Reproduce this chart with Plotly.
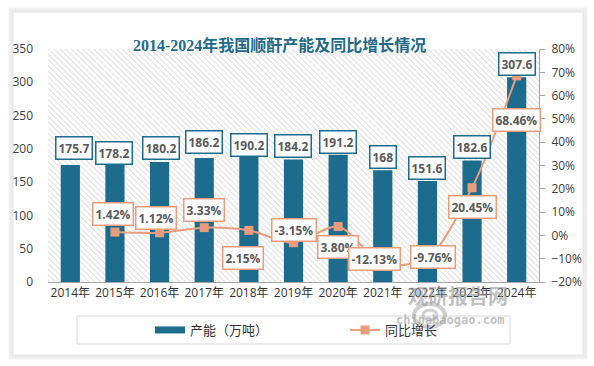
import base64
import plotly.graph_objects as go

years = ["2014年", "2015年", "2016年", "2017年", "2018年", "2019年", "2020年", "2021年", "2022年", "2023年", "2024年"]
capacity = [175.7, 178.2, 180.2, 186.2, 190.2, 184.2, 191.2, 168, 151.6, 182.6, 307.6]
growth_years = years[1:]
growth = [1.42, 1.12, 3.33, 2.15, -3.15, 3.80, -12.13, -9.76, 20.45, 68.46]

# label offsets (pixels): (xshift, yshift)
bar_label_shift = [(4, 17), (-1, 10), (1, 14), (0, 16), (0, 10), (-1, 13), (0, 13), (0, 13), (0, 13), (0, 13), (0, 13)]
line_label_shift = [(-2, 18), (-4, 15), (0, 18), (-6, -28), (0, 13), (0, -20), (-8, 5), (6, 1), (0, -19), (0, -44)]

BAR = "#1d6b8d"
LINE = "#e99d7d"
LBL = "#595959"
FONT = "Open Sans, Noto Sans CJK SC, sans-serif"
WM = "rgba(150,150,150,0.6)"

W, H = 594, 366
L, R, T, B = 48, 55, 49, 84
PW, PH = W - L - R, H - T - B

def px2x(px):
    return (px - L) / PW

def px2y(py):
    return (H - B - py) / PH

svg = (
    f'<svg xmlns="http://www.w3.org/2000/svg" width="{PW}" height="{PH}">'
    '<defs><pattern id="p" width="4" height="4" patternUnits="userSpaceOnUse" patternTransform="rotate(-45)">'
    '<line x1="0" y1="0" x2="0" y2="4" stroke="#c9c9c9" stroke-width="1.2"/></pattern></defs>'
    f'<rect width="{PW}" height="{PH}" fill="white"/><rect width="{PW}" height="{PH}" fill="url(#p)"/></svg>'
)
svg_uri = "data:image/svg+xml;base64," + base64.b64encode(svg.encode()).decode()

fig = go.Figure()
fig.add_trace(go.Bar(
    x=years, y=capacity, name="产能（万吨）", marker=dict(color=BAR, line=dict(width=0)),
    width=0.43, yaxis="y", showlegend=False,
))
# legend swatch for the bars (wide bar-like stroke)
fig.add_trace(go.Scatter(
    x=[None], y=[None], name="产能（万吨）", mode="lines", line=dict(color=BAR, width=7),
    yaxis="y", showlegend=True,
))
fig.add_trace(go.Scatter(
    x=growth_years, y=growth, name="同比增长", yaxis="y2", mode="lines+markers",
    line=dict(color=LINE, width=2, shape="spline", smoothing=0.8),
    marker=dict(symbol="square", size=9, color=LINE),
))

annotations = []
for yr, v, (dx, dy) in zip(years, capacity, bar_label_shift):
    annotations.append(dict(
        x=yr, y=v, xref="x", yref="y", text=f"<b>{v:g}</b>", showarrow=False,
        xshift=dx, yshift=dy, font=dict(family=FONT, size=12, color=LBL),
        bgcolor="white", bordercolor=BAR, borderwidth=1.5, borderpad=2,
    ))
for yr, v, (dx, dy) in zip(growth_years, growth, line_label_shift):
    annotations.append(dict(
        x=yr, y=v, xref="x", yref="y2", text=f"<b>{v:.2f}%</b>", showarrow=False,
        xshift=dx, yshift=dy, font=dict(family=FONT, size=12, color=LBL),
        bgcolor="white", bordercolor=LINE, borderwidth=1.5, borderpad=2,
    ))
annotations.append(dict(
    x=px2x(279), y=px2y(34), xref="paper", yref="paper", showarrow=False,
    text="<b>2014-2024年我国顺酐产能及同比增长情况</b>",
    font=dict(family="Liberation Serif, Noto Sans CJK SC, serif", size=16, color="#1f6a8a"),
))
annotations.append(dict(
    x=px2x(510), y=px2y(312), xref="paper", yref="paper", showarrow=False,
    text="<b>观研报告网</b>", font=dict(family="Noto Sans CJK SC", size=20, color=WM),
))
annotations.append(dict(
    x=px2x(506), y=px2y(329), xref="paper", yref="paper", showarrow=False,
    text="<b>chinabaogao.com</b>", font=dict(family="DejaVu Sans Mono", size=12, color=WM),
))

shapes = []
# card shadow
for i, a in enumerate([0.025, 0.03, 0.035, 0.04, 0.05]):
    off = 5 - i
    shapes.append(dict(
        type="rect", xref="paper", yref="paper", layer="below",
        x0=px2x(14 - off), x1=px2x(581 + off + 1), y0=px2y(352 + off + 2), y1=px2y(13 - off),
        line=dict(color=f"rgba(0,0,0,{a})", width=2), fillcolor="rgba(0,0,0,0)",
    ))
# legend frame
shapes.append(dict(
    type="rect", xref="paper", yref="paper", layer="below",
    x0=px2x(77), x1=px2x(510), y0=px2y(344), y1=px2y(316),
    line=dict(color="#d9d9d9", width=1), fillcolor="white",
))
# watermark logo rings
shapes.append(dict(
    type="circle", xref="paper", yref="paper", layer="above",
    x0=px2x(414), x1=px2x(445), y0=px2y(327), y1=px2y(304),
    line=dict(color="rgba(150,150,150,0.45)", width=4), fillcolor="rgba(0,0,0,0)",
))
shapes.append(dict(
    type="circle", xref="paper", yref="paper", layer="above",
    x0=px2x(423), x1=px2x(437), y0=px2y(320), y1=px2y(310),
    line=dict(color="rgba(150,150,150,0.45)", width=3), fillcolor="rgba(0,0,0,0)",
))

fig.update_layout(
    width=W, height=H,
    margin=dict(l=L, r=R, t=T, b=B, autoexpand=False),
    paper_bgcolor="white", plot_bgcolor="rgba(0,0,0,0)",
    font=dict(family=FONT, size=12, color="#404040"),
    showlegend=True,
    legend=dict(
        orientation="h", x=px2x(150), xanchor="left", y=px2y(330), yanchor="middle",
        font=dict(family="Noto Sans CJK SC", size=13, color="#333333"),
        bgcolor="rgba(0,0,0,0)", entrywidth=150, itemwidth=30, tracegroupgap=0,
    ),
    xaxis=dict(
        type="category", showgrid=False, showline=True, linecolor="#a6a6a6", linewidth=1,
        ticks="", tickfont=dict(size=12, color="#333333"), range=[-0.5, 10.5],
    ),
    yaxis=dict(
        range=[0, 350], dtick=50, showgrid=False, zeroline=False, showline=False,
        ticks="", ticklabelstandoff=14, tickfont=dict(size=12, color="#404040"),
    ),
    yaxis2=dict(
        range=[-20, 80], dtick=10, overlaying="y", side="right", showgrid=False, zeroline=False,
        showline=True, linecolor="#a6a6a6", linewidth=1, ticks="outside", ticklen=5,
        tickcolor="#a6a6a6", ticksuffix="%", ticklabelstandoff=4, tickfont=dict(size=12, color="#404040"),
    ),
    bargap=0.57,
    annotations=annotations,
    shapes=shapes,
    images=[dict(
        source=svg_uri, xref="x domain", yref="y domain", x=0, y=1, sizex=1, sizey=1,
        xanchor="left", yanchor="top", sizing="stretch", layer="below",
    )],
)

fig.write_html("out.html", config={"displayModeBar": False},
               post_script="document.body.style.margin='0';")
